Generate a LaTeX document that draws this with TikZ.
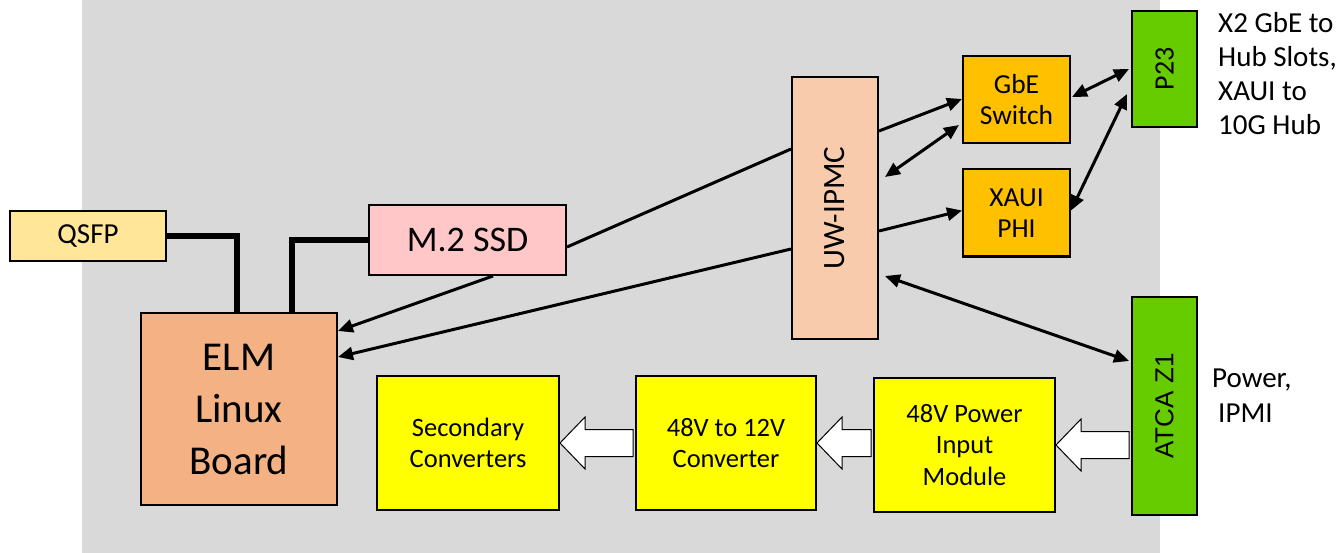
\documentclass[tikz,border=0pt]{standalone}
\usepackage{fontspec}
\setmainfont{Carlito}
\newfontfamily\arialf{Liberation Sans}
\usetikzlibrary{arrows.meta,calc}
\definecolor{bggray}{HTML}{D9D9D9}
\definecolor{qsfpc}{HTML}{FFE699}
\definecolor{ssdc}{HTML}{FFC7C7}
\definecolor{elmc}{HTML}{F4B183}
\definecolor{ipmcc}{HTML}{F8CBAD}
\definecolor{orangec}{HTML}{FFC000}
\definecolor{greenc}{HTML}{66CC00}
\definecolor{yellowc}{HTML}{FFFF00}
\newcommand\powarrow[2]{%
  \draw[fill=white,line width=1pt,line join=miter]
    let \p1=(#1.west), \p2=(#2.east) in
    (\x2,\y2) -- (\x2+25pt,\y2+26pt) -- (\x2+25pt,\y2+13.5pt) -- (\x1-2pt,\y2+13.5pt)
    -- (\x1-2pt,\y2-13.5pt) -- (\x2+25pt,\y2-13.5pt) -- (\x2+25pt,\y2-26pt) -- cycle;}
\begin{document}
\begin{tikzpicture}[x=1pt,y=-1pt,
  box/.style={draw=black,line width=2pt,inner sep=0pt,align=center},
  conn/.style={line width=3pt,-{Triangle[length=15pt,width=13pt]}},
  dconn/.style={line width=3pt,{Triangle[length=15pt,width=13pt]}-{Triangle[length=15pt,width=13pt]}},
  thick line/.style={line width=5.5pt,line join=miter}]
\useasboundingbox (0,0) rectangle (1340,553);
\fill[bggray] (82,0) rectangle (1160,553);

% nodes
\node[box,fill=qsfpc,minimum width=156pt,minimum height=50pt,font=\fontsize{29}{34}\selectfont] (qsfp) at (88,236) {QSFP};
\node[box,fill=ssdc,minimum width=197pt,minimum height=70pt,font=\fontsize{36}{42}\selectfont] (m2) at (467.5,240) {M.2 SSD};
\node[box,fill=elmc,minimum width=196pt,minimum height=192pt,font=\fontsize{41}{52}\selectfont] (elm) at (239,409) {ELM\\Linux\\Board};
\node[box,fill=ipmcc,minimum width=86pt,minimum height=262pt] (ipmc) at (835,208) {};
\node[rotate=90,font=\fontsize{31}{36}\selectfont] at (ipmc.center) {UW-IPMC};
\node[box,fill=orangec,minimum width=107pt,minimum height=87pt,font=\fontsize{27.5}{31.5}\selectfont] (gbe) at (1016.5,99.5) {GbE\\Switch};
\node[box,fill=orangec,minimum width=107pt,minimum height=87pt,font=\fontsize{27.5}{31.5}\selectfont] (xaui) at (1016.5,213) {XAUI\\PHI};
\node[box,fill=greenc,minimum width=65pt,minimum height=116pt] (p23) at (1164.5,69) {};
\node[rotate=90,font=\fontsize{28}{33}\selectfont] at (p23.center) {P23};
\node[box,fill=greenc,minimum width=65pt,minimum height=218pt] (atca) at (1164.5,406) {};
\node[rotate=90,font=\arialf\fontsize{26}{31}\selectfont] at (atca.center) {ATCA Z1};
\node[box,fill=yellowc,minimum width=182pt,minimum height=134pt,font=\fontsize{26.5}{31}\selectfont] (sec) at (468,443) {Secondary\\Converters};
\node[box,fill=yellowc,minimum width=180pt,minimum height=134pt,font=\fontsize{26.5}{31}\selectfont] (conv) at (726,443) {48V to 12V\\Converter};
\node[box,fill=yellowc,minimum width=181pt,minimum height=134pt,font=\fontsize{26.5}{31.5}\selectfont] (pim) at (964.5,445) {48V Power\\Input\\Module};

% labels
\node[anchor=north west,inner sep=0pt,align=left,font=\fontsize{29}{34}\selectfont] (lab1) at (1218,12) {X2 GbE to\\Hub Slots,\\XAUI to\\10G Hub};
\node[anchor=north west,inner sep=0pt,align=left,font=\fontsize{29}{35}\selectfont] (lab2) at (1212,369) {Power,\\\hspace{6pt}IPMI};

% thick lines
\draw[thick line] (qsfp.east) -| ($(elm.north west)+(97,0)$);
\draw[thick line] (m2.west) -| ($(elm.north west)+(152,0)$);

% connectors
\draw[conn] ($(m2.south west)+(125,0)$) -- ($(elm.north east)+(0,19)$);
\draw[conn] ($(ipmc.north west)+(0,173)$) -- ($(elm.north east)+(0,45)$);
\draw[line width=3pt] ($(m2.north east)+(0,43)$) -- ($(ipmc.north west)+(0,73)$);
\draw[conn] ($(ipmc.north east)+(0,55)$) -- ($(gbe.north west)+(0,44)$);
\draw[dconn] ($(ipmc.north east)+(6,101)$) -- ($(gbe.north west)+(-3,70)$);
\draw[conn] ($(ipmc.north east)+(0,155)$) -- ($(xaui.north west)+(0,42)$);
\draw[dconn] ($(gbe.north east)+(1,42)$) -- ($(p23.north west)+(-2,59)$);
\draw[dconn] ($(xaui.north east)+(0,42)$) -- ($(p23.north west)+(-4,84)$);
\draw[dconn] ($(ipmc.north east)+(6,200)$) -- ($(atca.north west)+(-2,65)$);

% power arrows
\powarrow{atca}{pim}
\powarrow{pim}{conv}
\powarrow{conv}{sec}
\end{tikzpicture}
\end{document}
